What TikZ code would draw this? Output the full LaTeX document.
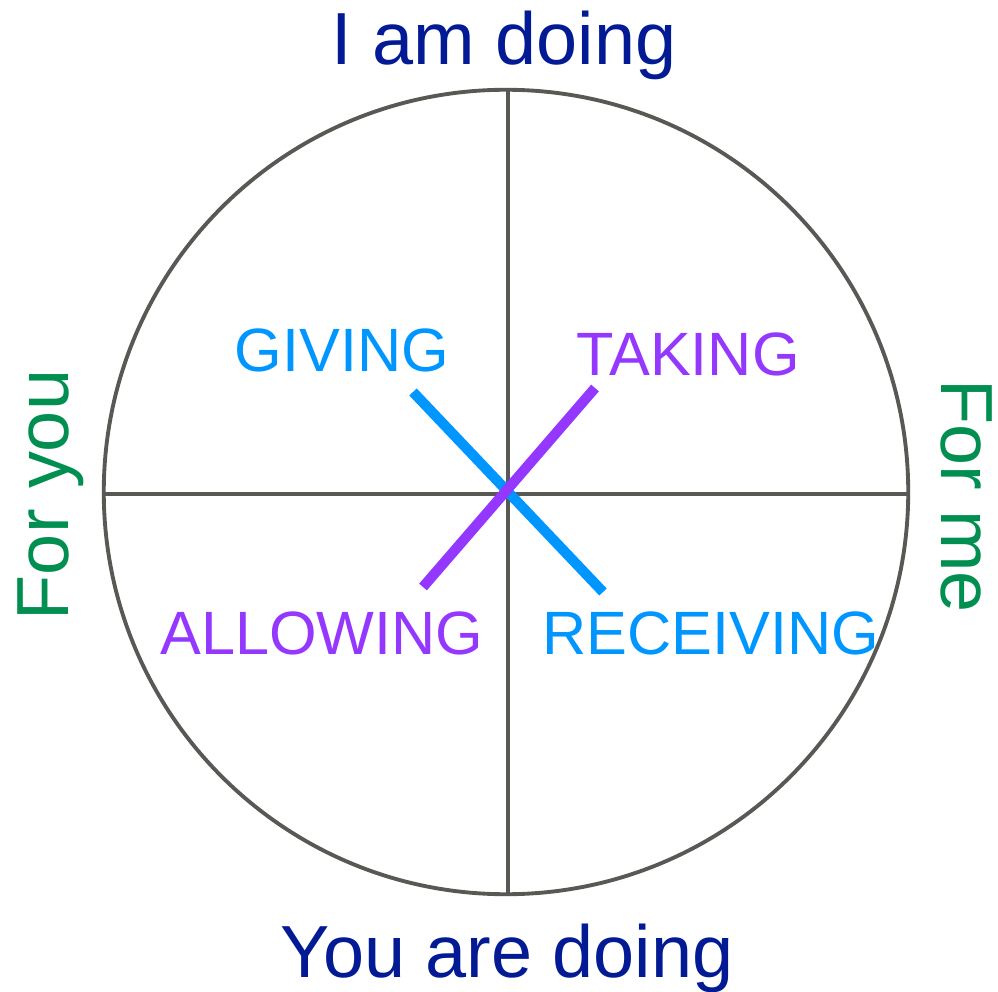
\documentclass[tikz,border=0pt]{standalone}
\usepackage{fontspec}
\setmainfont{Liberation Sans}
\usetikzlibrary{positioning}
\definecolor{axisgray}{RGB}{88,88,84}
\definecolor{doingnavy}{RGB}{2,26,148}
\definecolor{forgreen}{RGB}{0,143,81}
\definecolor{giveblue}{RGB}{0,150,255}
\definecolor{takepurple}{RGB}{148,55,255}
\tikzset{
  outerlabel/.style={anchor=base,inner sep=0pt,font=\fontsize{21}{25}\selectfont},
  innerlabel/.style={anchor=base,inner sep=0pt,font=\fontsize{17.4}{21}\selectfont},
  axisline/.style={axisgray,line width=1.1pt},
  flowline/.style={line width=2.9pt}
}

\begin{document}
\begin{tikzpicture}[x=0.01cm,y=-0.01cm]
        \useasboundingbox (0,0) rectangle (998,992);
        \node[draw=axisgray,line width=1.1pt,circle,minimum size=8.04cm,inner sep=0pt] (dial) at (506,492) {};
        \coordinate (top) at (508,90);
        \coordinate (bottom) at (508,895);
        \coordinate (left) at (104,494);
        \coordinate (right) at (908,494);
        \draw[axisline] (top) -- (bottom);
        \draw[axisline] (left) -- (right);
        % the two crossing strokes
        \coordinate (give) at (413,392);
        \coordinate (receive) at (603,592);
        \coordinate (take) at (595,388);
        \coordinate (allow) at (423,587);
        \draw[flowline,giveblue] (give) -- (receive);
        \draw[flowline,takepurple] (take) -- (allow);
        \node[outerlabel,doingnavy] (iam) at (504,65) {I am doing};
        \node[outerlabel,doingnavy] (youare) at (507,977) {You are doing};
        \node[outerlabel,forgreen,rotate=90] (foryou) at (68,495) {For you};
        \node[outerlabel,forgreen,rotate=-90] (forme) at (941,496) {For me};
        \node[innerlabel,giveblue] (giving) at (342,372) {GIVING};
        \node[innerlabel,takepurple] (taking) at (688,376) {TAKING};
        \node[innerlabel,takepurple] (allowing) at (322,654) {ALLOWING};
        \node[innerlabel,giveblue] (receiving) at (711,654) {RECEIVING};
      \end{tikzpicture}
\end{document}
